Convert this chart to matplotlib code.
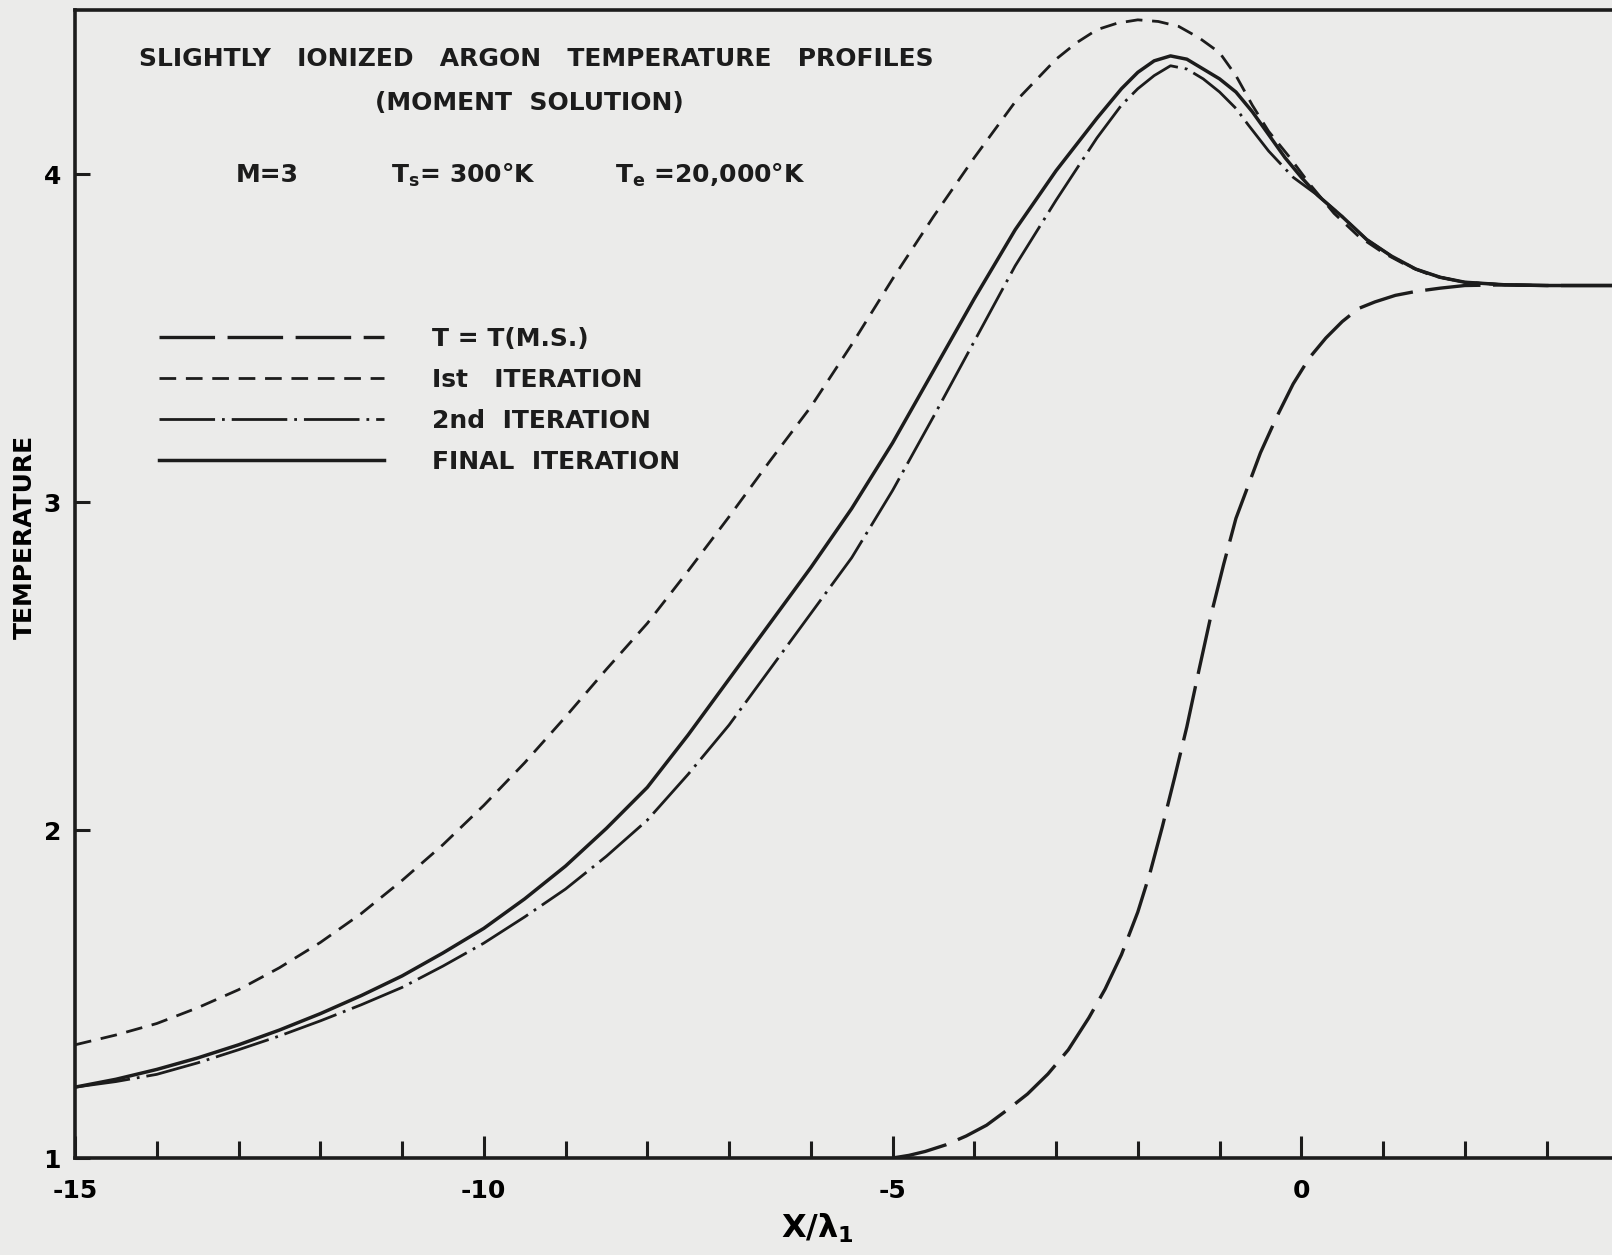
import matplotlib.pyplot as plt

# values (x = X/lambda_1, y = temperature ratio)
ms_x = [-5.0, -4.8, -4.6, -4.35, -4.1, -3.85, -3.6, -3.35, -3.1, -2.85, -2.6, -2.4,
        -2.2, -2.0, -1.85, -1.7, -1.55, -1.4, -1.25, -1.1, -0.95, -0.8, -0.65, -0.5,
        -0.3, -0.1, 0.1, 0.3, 0.5, 0.7, 0.9, 1.15, 1.4, 1.7, 2.0, 2.5, 3.0, 3.8]
ms_y = [1.0, 1.008, 1.02, 1.04, 1.067, 1.10, 1.146, 1.195, 1.256, 1.33, 1.427, 1.515,
        1.62, 1.75, 1.87, 2.01, 2.16, 2.315, 2.49, 2.66, 2.81, 2.95, 3.05, 3.15,
        3.26, 3.36, 3.44, 3.50, 3.55, 3.59, 3.61, 3.63, 3.642, 3.652, 3.66, 3.662, 3.66, 3.66]

iter1_x = [-15, -14.5, -14, -13.5, -13, -12.5, -12, -11.5, -11, -10.5, -10, -9.5, -9,
           -8.5, -8, -7.5, -7, -6.5, -6, -5.5, -5, -4.5, -4, -3.5, -3, -2.75, -2.5,
           -2.25, -2, -1.75, -1.5, -1.25, -1, -0.8, -0.6, -0.4, -0.14, 0.1, 0.4, 0.7,
           1.0, 1.3, 1.6, 2.0, 2.5, 3.0, 3.8]
iter1_y = [1.345, 1.375, 1.41, 1.458, 1.513, 1.58, 1.657, 1.745, 1.846, 1.955, 2.075,
           2.205, 2.345, 2.49, 2.63, 2.79, 2.955, 3.125, 3.29, 3.48, 3.68, 3.87, 4.05,
           4.22, 4.35, 4.40, 4.44, 4.46, 4.47, 4.465, 4.45, 4.415, 4.37, 4.30, 4.21,
           4.13, 4.05, 3.97, 3.88, 3.81, 3.76, 3.72, 3.69, 3.67, 3.662, 3.66, 3.66]

iter2_x = [-15, -14.5, -14, -13.5, -13, -12.5, -12, -11.5, -11, -10.5, -10, -9.5, -9,
           -8.5, -8, -7.5, -7, -6.5, -6, -5.5, -5, -4.5, -4, -3.5, -3, -2.5, -2.2, -2,
           -1.8, -1.6, -1.4, -1.2, -1.0, -0.8, -0.65, -0.4, -0.1, 0.2, 0.5, 0.8, 1.1,
           1.4, 1.7, 2.0, 2.5, 3.0, 3.8]
iter2_y = [1.216, 1.233, 1.255, 1.29, 1.33, 1.372, 1.418, 1.467, 1.52, 1.585, 1.655,
           1.735, 1.82, 1.92, 2.03, 2.17, 2.32, 2.49, 2.66, 2.83, 3.035, 3.26, 3.49,
           3.72, 3.92, 4.11, 4.21, 4.26, 4.30, 4.33, 4.32, 4.29, 4.25, 4.20, 4.15, 4.07,
           3.99, 3.935, 3.87, 3.80, 3.75, 3.71, 3.685, 3.67, 3.662, 3.66, 3.66]

final_x = [-15, -14.5, -14, -13.5, -13, -12.5, -12, -11.5, -11, -10.5, -10, -9.5, -9,
           -8.5, -8, -7.5, -7, -6.5, -6, -5.5, -5, -4.5, -4, -3.5, -3, -2.5, -2.2, -2,
           -1.8, -1.6, -1.4, -1.2, -1.0, -0.8, -0.6, -0.4, -0.2, 0.0, 0.2, 0.5, 0.8,
           1.1, 1.4, 1.7, 2.0, 2.5, 3.0, 3.8]
final_y = [1.216, 1.24, 1.27, 1.305, 1.345, 1.39, 1.44, 1.495, 1.555, 1.625, 1.70,
           1.79, 1.89, 2.005, 2.13, 2.29, 2.46, 2.63, 2.80, 2.98, 3.18, 3.40, 3.62,
           3.83, 4.01, 4.17, 4.26, 4.31, 4.345, 4.36, 4.35, 4.32, 4.29, 4.25, 4.19,
           4.12, 4.05, 3.99, 3.935, 3.87, 3.80, 3.75, 3.71, 3.685, 3.67, 3.662, 3.66, 3.66]

labels = ["T = T(M.S.)", "Ist   ITERATION", "2nd  ITERATION", "FINAL  ITERATION"]
x_major = [-15, -10, -5, 0]
x_minor = [-14, -13, -12, -11, -9, -8, -7, -6, -4, -3, -2, -1, 1, 2, 3]
y_ticks = [1, 2, 3, 4]

PAPER = "#ebebea"
INK = "#1c1c1c"
FS = 18

plt.rcParams["font.family"] = "DejaVu Sans"
plt.rcParams["font.weight"] = "bold"
plt.rcParams["axes.labelweight"] = "bold"
plt.rcParams["mathtext.fontset"] = "custom"
plt.rcParams["mathtext.rm"] = "DejaVu Sans:bold"
plt.rcParams["mathtext.it"] = "DejaVu Sans:bold"
plt.rcParams["lines.scale_dashes"] = False

fig = plt.figure(figsize=(16.12, 12.55), dpi=100, facecolor=PAPER)
ax = fig.add_axes([75 / 1612, 97 / 1255, 1537 / 1612, 1148 / 1255])
ax.set_facecolor(PAPER)

l_ms, = ax.plot(ms_x, ms_y, color=INK, lw=2.4, dashes=(40, 9))
l_1, = ax.plot(iter1_x, iter1_y, color=INK, lw=2.0, dashes=(12, 7))
l_2, = ax.plot(iter2_x, iter2_y, color=INK, lw=2.0, dashes=(40, 5, 2, 5))
l_f, = ax.plot(final_x, final_y, color=INK, lw=2.5)

ax.set_xlim(-15, 3.8)
ax.set_ylim(1, 4.5)

for side in ["left", "bottom", "top"]:
    ax.spines[side].set_linewidth(2.6)
    ax.spines[side].set_color(INK)
ax.spines["right"].set_visible(False)

ax.set_xticks(x_major)
ax.set_xticklabels([str(v) for v in x_major])
ax.set_xticks(x_minor, minor=True)
ax.set_yticks(y_ticks)
ax.set_yticklabels([str(v) for v in y_ticks])
ax.tick_params(axis="x", which="major", direction="in", length=16, width=2.2,
               color=INK, labelsize=FS, pad=15)
ax.tick_params(axis="x", which="minor", direction="in", length=12, width=2.2, color=INK)
ax.tick_params(axis="y", direction="in", length=11, width=2.2, color=INK,
               labelsize=FS, pad=10)

ax.set_ylabel("TEMPERATURE", fontsize=FS)
ax.yaxis.set_label_coords(-0.025, 0.541)
ax.set_xlabel(r"$\mathrm{X/\lambda_1}$", fontsize=23)
ax.xaxis.set_label_coords(0.483, -0.047)

# header text
fig.text(139 / 1612, 1 - 59 / 1255, "SLIGHTLY   IONIZED   ARGON   TEMPERATURE   PROFILES",
         fontsize=FS, va="center", ha="left", color=INK)
fig.text(529 / 1612, 1 - 103 / 1255, "(MOMENT  SOLUTION)",
         fontsize=FS, va="center", ha="center", color=INK)
fig.text(236 / 1612, 1 - 175 / 1255, "M=3", fontsize=FS, va="center", color=INK)
fig.text(391 / 1612, 1 - 175 / 1255, r"$\mathrm{T_s}$= 300°K",
         fontsize=FS, va="center", color=INK)
fig.text(615 / 1612, 1 - 175 / 1255, r"$\mathrm{T_e}$ =20,000°K",
         fontsize=FS, va="center", color=INK)

leg = ax.legend([l_ms, l_1, l_2, l_f], labels, loc="upper left",
                bbox_to_anchor=(159 / 1612, 1 - 327 / 1255), bbox_transform=fig.transFigure,
                frameon=False, fontsize=FS, handlelength=9.0, handletextpad=1.9,
                labelspacing=0.68, borderpad=0, borderaxespad=0)
for t in leg.get_texts():
    t.set_color(INK)

fig.savefig("out.png", dpi=100, facecolor=PAPER)
